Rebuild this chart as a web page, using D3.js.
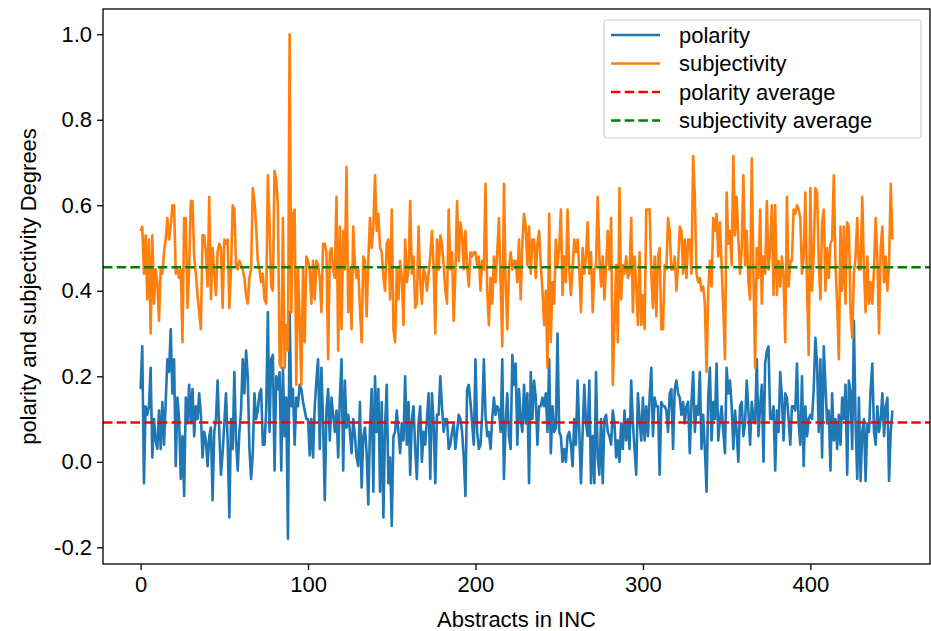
<!DOCTYPE html>
<html>
<head>
<meta charset="utf-8">
<script src="https://cdn.jsdelivr.net/npm/d3@7"></script>
<style>
  html, body { margin: 0; padding: 0; background: #fff; }
  svg text { font-family: "Liberation Sans", Arial, sans-serif; }
</style>
</head>
<body>
<svg id="chart" width="931" height="631"></svg>
<script>
// ── data ──────────────────────────────────────────────────────────────────
const polarity = [
  0.17, 0.27, -0.05, 0.13, 0.11, 0.13, 0.22, 0.01, 0.10, 0.05,
  0.03, 0.12, 0.03, 0.14, 0.04, 0.14, 0.24, 0.21, 0.31, 0.16,
  0.24, -0.01, 0.15, 0.10, -0.04, 0.06, -0.08, 0.15, 0.09, 0.18,
  0.09, 0.17, 0.06, 0.13, 0.10, 0.16, 0.11, 0.01, 0.07, 0.05,
  -0.01, 0.06, 0.08, -0.09, 0.07, 0.10, 0.19, 0.07, -0.03, 0.02,
  0.09, 0.16, 0.05, -0.13, 0.10, 0.03, 0.21, 0.05, -0.02, 0.07,
  0.12, 0.24, 0.16, 0.26, 0.20, 0.03, -0.04, 0.02, 0.16, 0.10,
  0.12, 0.16, 0.17, 0.04, 0.04, 0.12, 0.35, 0.07, 0.24, 0.25,
  -0.02, 0.20, 0.17, 0.21, -0.02, 0.22, 0.06, 0.15, -0.18, 0.35,
  0.13, 0.17, 0.04, 0.15, 0.13, 0.18, 0.17, 0.14, 0.12, 0.10,
  0.10, 0.015, 0.10, 0.01, 0.13, 0.19, 0.24, 0.03, 0.22, 0.09,
  -0.09, 0.12, 0.17, 0.05, 0.15, 0.11, 0.07, 0.12, 0.01, 0.15,
  0.24, -0.02, 0.19, 0.08, 0.11, 0.07, 0.02, 0.10, 0.06, 0.01,
  -0.01, 0.14, -0.06, 0.06, 0.08, 0.02, -0.10, 0.08, 0.17, -0.07,
  0.20, 0.07, 0.17, -0.07, 0.14, -0.13, 0.08, 0.18, -0.05, 0.01,
  -0.15, 0.06, 0.07, 0.12, 0.07, 0.02, 0.09, 0.05, 0.20, 0.04,
  0.14, -0.03, 0.10, 0.13, 0.03, -0.04, 0.09, 0.13, 0.00, 0.07,
  0.04, 0.10, 0.16, -0.04, 0.16, 0.09, -0.05, 0.11, 0.11, 0.20,
  0.13, 0.07, 0.10, 0.10, 0.03, 0.04, 0.07, 0.09, 0.03, 0.07,
  0.11, 0.10, 0.07, 0.01, -0.08, 0.17, 0.18, 0.14, 0.09, 0.04,
  0.24, 0.07, 0.03, 0.04, 0.11, 0.24, 0.11, 0.06, 0.07, 0.03,
  0.10, 0.15, 0.11, 0.13, 0.12, 0.07, 0.24, -0.04, 0.09, 0.16,
  0.06, 0.03, 0.25, 0.18, 0.23, 0.04, 0.17, 0.10, 0.07, 0.18,
  0.09, 0.16, -0.05, 0.21, 0.10, 0.19, 0.15, 0.04, 0.13, 0.13,
  0.15, 0.13, 0.16, 0.07, 0.24, 0.02, 0.13, 0.07, 0.08, 0.30,
  0.07, 0.06, 0.00, 0.03, 0.00, 0.06, 0.07, 0.04, -0.01, 0.10,
  0.04, 0.19, 0.07, -0.05, 0.07, 0.18, 0.09, 0.06, 0.19, -0.05,
  0.06, -0.05, 0.21, 0.01, -0.03, 0.10, -0.05, 0.10, 0.11, 0.07,
  0.06, 0.04, 0.12, 0.09, 0.01, 0.05, 0.00, 0.09, 0.03, 0.12,
  0.05, 0.10, 0.03, 0.19, 0.09, 0.03, -0.03, 0.16, 0.10, 0.05,
  0.15, 0.05, 0.13, 0.06, 0.15, 0.22, 0.06, 0.15, 0.13, 0.13,
  -0.03, 0.14, 0.13, 0.13, 0.12, 0.07, 0.16, 0.17, 0.03, 0.17,
  0.19, 0.16, 0.15, 0.11, 0.14, 0.09, 0.13, 0.14, 0.02, 0.14,
  0.21, 0.07, 0.13, 0.11, 0.21, 0.03, 0.11, 0.03, -0.07, 0.15,
  0.22, 0.05, 0.14, 0.10, 0.23, 0.05, 0.10, 0.13, 0.07, 0.02,
  0.22, 0.16, 0.19, 0.13, 0.03, 0.12, 0.07, 0.00, 0.13, 0.14,
  0.06, 0.09, 0.19, 0.12, 0.04, 0.14, 0.10, 0.09, 0.24, 0.06,
  0.13, 0.18, 0.00, 0.23, 0.26, 0.27, 0.10, 0.10, 0.13, -0.02,
  0.12, 0.07, 0.21, 0.15, 0.05, 0.16, 0.15, 0.10, 0.04, 0.13,
  0.13, 0.12, 0.23, 0.09, 0.04, 0.20, -0.01, 0.13, 0.06, 0.10,
  0.11, 0.10, 0.17, 0.29, 0.23, 0.07, 0.24, 0.01, 0.27, 0.18,
  0.09, 0.12, -0.02, 0.16, 0.05, 0.10, 0.03, 0.11, 0.04, 0.15,
  0.10, 0.18, -0.03, 0.19, 0.16, 0.03, 0.33, 0.09, -0.04, 0.15,
  -0.045, 0.07, 0.10, -0.045, 0.09, 0.07, 0.17, 0.23, 0.07, 0.04,
  0.13, 0.07, 0.10, 0.16, 0.06, 0.13, 0.15, -0.045, 0.07, 0.12
];

const subjectivity = [
  0.54, 0.55, 0.44, 0.53, 0.38, 0.52, 0.30, 0.53, 0.37, 0.45,
  0.42, 0.33, 0.45, 0.44, 0.49, 0.52, 0.57, 0.52, 0.55, 0.60,
  0.60, 0.44, 0.45, 0.43, 0.45, 0.28, 0.57, 0.57, 0.36, 0.45,
  0.61, 0.61, 0.48, 0.44, 0.39, 0.35, 0.31, 0.53, 0.53, 0.49,
  0.41, 0.62, 0.38, 0.50, 0.44, 0.39, 0.49, 0.51, 0.50, 0.36,
  0.52, 0.51, 0.52, 0.36, 0.45, 0.60, 0.59, 0.46, 0.45, 0.47,
  0.46, 0.45, 0.43, 0.39, 0.37, 0.43, 0.45, 0.64, 0.61, 0.55,
  0.47, 0.45, 0.42, 0.44, 0.38, 0.37, 0.67, 0.56, 0.41, 0.40,
  0.68, 0.66, 0.60, 0.23, 0.22, 0.57, 0.22, 0.32, 0.26, 1.00,
  0.35, 0.58, 0.59, 0.18, 0.45, 0.33, 0.18, 0.45, 0.28, 0.48,
  0.47, 0.45, 0.37, 0.47, 0.38, 0.47, 0.46, 0.43, 0.35, 0.51,
  0.51, 0.49, 0.24, 0.49, 0.50, 0.45, 0.43, 0.62, 0.26, 0.55,
  0.31, 0.54, 0.45, 0.69, 0.35, 0.45, 0.31, 0.55, 0.46, 0.43,
  0.45, 0.36, 0.28, 0.48, 0.47, 0.34, 0.47, 0.57, 0.50, 0.55,
  0.67, 0.54, 0.58, 0.50, 0.49, 0.43, 0.40, 0.51, 0.52, 0.38,
  0.59, 0.31, 0.28, 0.45, 0.38, 0.47, 0.43, 0.32, 0.52, 0.42,
  0.45, 0.61, 0.44, 0.48, 0.36, 0.37, 0.55, 0.42, 0.37, 0.45,
  0.44, 0.40, 0.44, 0.48, 0.54, 0.46, 0.30, 0.52, 0.45, 0.53,
  0.51, 0.46, 0.40, 0.37, 0.59, 0.45, 0.49, 0.33, 0.44, 0.61,
  0.47, 0.56, 0.53, 0.45, 0.54, 0.46, 0.41, 0.49, 0.48, 0.49,
  0.49, 0.46, 0.48, 0.40, 0.47, 0.45, 0.65, 0.40, 0.32, 0.43,
  0.37, 0.48, 0.42, 0.49, 0.57, 0.42, 0.27, 0.65, 0.42, 0.31,
  0.45, 0.49, 0.45, 0.47, 0.47, 0.42, 0.52, 0.38, 0.51, 0.58,
  0.55, 0.46, 0.55, 0.44, 0.52, 0.52, 0.43, 0.51, 0.54, 0.46,
  0.40, 0.32, 0.40, 0.22, 0.58, 0.28, 0.42, 0.37, 0.52, 0.46,
  0.50, 0.59, 0.39, 0.48, 0.42, 0.59, 0.45, 0.39, 0.45, 0.52,
  0.49, 0.52, 0.45, 0.35, 0.50, 0.44, 0.48, 0.56, 0.44, 0.49,
  0.35, 0.45, 0.46, 0.62, 0.48, 0.41, 0.48, 0.38, 0.46, 0.54,
  0.45, 0.57, 0.18, 0.32, 0.46, 0.28, 0.64, 0.38, 0.46, 0.44,
  0.48, 0.43, 0.44, 0.57, 0.35, 0.48, 0.41, 0.32, 0.49, 0.32,
  0.39, 0.31, 0.59, 0.59, 0.59, 0.44, 0.36, 0.48, 0.34, 0.48,
  0.50, 0.31, 0.31, 0.46, 0.45, 0.57, 0.54, 0.45, 0.45, 0.48,
  0.40, 0.46, 0.55, 0.54, 0.44, 0.52, 0.43, 0.52, 0.52, 0.44,
  0.715, 0.62, 0.44, 0.42, 0.43, 0.40, 0.41, 0.37, 0.21, 0.40,
  0.47, 0.41, 0.57, 0.54, 0.58, 0.48, 0.56, 0.46, 0.36, 0.24,
  0.63, 0.51, 0.54, 0.46, 0.715, 0.53, 0.62, 0.52, 0.44, 0.50,
  0.67, 0.46, 0.54, 0.42, 0.38, 0.71, 0.44, 0.22, 0.50, 0.43,
  0.59, 0.37, 0.48, 0.44, 0.61, 0.45, 0.50, 0.60, 0.39, 0.60,
  0.39, 0.47, 0.41, 0.48, 0.43, 0.28, 0.62, 0.41, 0.47, 0.47,
  0.59, 0.58, 0.60, 0.59, 0.57, 0.44, 0.48, 0.63, 0.41, 0.25,
  0.64, 0.40, 0.49, 0.64, 0.63, 0.47, 0.38, 0.56, 0.59, 0.40,
  0.50, 0.43, 0.51, 0.52, 0.67, 0.46, 0.37, 0.24, 0.55, 0.40,
  0.55, 0.37, 0.56, 0.55, 0.35, 0.29, 0.44, 0.48, 0.57, 0.45,
  0.45, 0.62, 0.45, 0.35, 0.48, 0.37, 0.42, 0.37, 0.45, 0.57,
  0.48, 0.30, 0.50, 0.55, 0.42, 0.48, 0.40, 0.46, 0.65, 0.52
];

const polarityAverage = 0.092;
const subjectivityAverage = 0.455;

const xTicks = [0, 100, 200, 300, 400];
const yTicks = [-0.2, 0.0, 0.2, 0.4, 0.6, 0.8, 1.0];

const seriesNames = ['polarity', 'subjectivity', 'polarity average', 'subjectivity average'];

// ── layout ─────────────────────────────────────────────────────────────────
const PLOT = { left: 103, right: 930, top: 9, bottom: 564 };
const FONT = 22;
const LW = 2.6;            // series / average line width
const DASH = '9.5,4.2';

const COLORS = {
  polarity: '#1f77b4',
  subjectivity: '#ff7f0e',
  'polarity average': '#ff0000',
  'subjectivity average': '#008000'
};

const svg = d3.select('#chart');

const n = polarity.length;
const xPad = (n - 1) * 0.05;
const x = d3.scaleLinear()
  .domain([-xPad, (n - 1) + xPad])
  .range([PLOT.left, PLOT.right]);

const yMin = d3.min([...polarity, ...subjectivity]);
const yMax = d3.max([...polarity, ...subjectivity]);
const yPad = (yMax - yMin) * 0.05;
const y = d3.scaleLinear()
  .domain([yMin - yPad, yMax + yPad])
  .range([PLOT.bottom, PLOT.top]);

svg.append('defs').append('clipPath').attr('id', 'clip')
  .append('rect')
  .attr('x', PLOT.left).attr('y', PLOT.top)
  .attr('width', PLOT.right - PLOT.left)
  .attr('height', PLOT.bottom - PLOT.top);

const body = svg.append('g').attr('clip-path', 'url(#clip)');

const line = d3.line().x((d, i) => x(i)).y(d => y(d));

[['polarity', polarity], ['subjectivity', subjectivity]].forEach(([name, data]) => {
  body.append('path')
    .datum(data)
    .attr('fill', 'none')
    .attr('stroke', COLORS[name])
    .attr('stroke-width', LW)
    .attr('stroke-linejoin', 'round')
    .attr('d', line);
});

// average lines span the whole axes
[[polarityAverage, 'polarity average'], [subjectivityAverage, 'subjectivity average']]
  .forEach(([v, name]) => {
    body.append('line')
      .attr('x1', PLOT.left).attr('x2', PLOT.right)
      .attr('y1', y(v)).attr('y2', y(v))
      .attr('stroke', COLORS[name])
      .attr('stroke-width', LW)
      .attr('stroke-dasharray', DASH);
  });

// ── axes ──────────────────────────────────────────────────────────────────
const xAxis = d3.axisBottom(x)
  .tickValues(xTicks)
  .tickFormat(d3.format('d'))
  .tickSize(6)
  .tickPadding(6);

const yAxis = d3.axisLeft(y)
  .tickValues(yTicks)
  .tickFormat(d => d3.format('.1f')(d).replace('−', '-'))
  .tickSize(6)
  .tickPadding(5);

const xg = svg.append('g')
  .attr('transform', `translate(0,${PLOT.bottom})`)
  .call(xAxis);
const yg = svg.append('g')
  .attr('transform', `translate(${PLOT.left},0)`)
  .call(yAxis);

[xg, yg].forEach(g => {
  g.select('.domain').remove();
  g.selectAll('line').attr('stroke', '#000').attr('stroke-width', 1.3);
  g.selectAll('text')
    .attr('fill', '#000')
    .attr('font-size', FONT + 'px')
    .attr('font-family', '"Liberation Sans", Arial, sans-serif');
});

// frame
svg.append('rect')
  .attr('x', PLOT.left).attr('y', PLOT.top)
  .attr('width', PLOT.right - PLOT.left)
  .attr('height', PLOT.bottom - PLOT.top)
  .attr('fill', 'none')
  .attr('stroke', '#000')
  .attr('stroke-width', 1.3);

// axis labels
svg.append('text')
  .attr('x', (PLOT.left + PLOT.right) / 2)
  .attr('y', 627)
  .attr('text-anchor', 'middle')
  .attr('font-size', FONT + 'px')
  .text('Abstracts in INC');

svg.append('text')
  .attr('transform', `translate(36,${(PLOT.top + PLOT.bottom) / 2}) rotate(-90)`)
  .attr('text-anchor', 'middle')
  .attr('font-size', FONT + 'px')
  .text('polarity and subjectivity Degrees');

// ── legend ───────────────────────────────────────────────────────────────
const LEG = { x: 604, y: 20, w: 317, h: 118, row: 28.5 };
const legend = svg.append('g').attr('transform', `translate(${LEG.x},${LEG.y})`);

legend.append('rect')
  .attr('width', LEG.w).attr('height', LEG.h)
  .attr('rx', 3)
  .attr('fill', 'rgba(255,255,255,0.8)')
  .attr('stroke', '#d0d0d0')
  .attr('stroke-width', 1.2);

seriesNames.forEach((name, i) => {
  const cy = 15 + i * LEG.row;
  legend.append('line')
    .attr('x1', 7).attr('x2', 56)
    .attr('y1', cy).attr('y2', cy)
    .attr('stroke', COLORS[name])
    .attr('stroke-width', LW)
    .attr('stroke-dasharray', name.includes('average') ? DASH : null);
  legend.append('text')
    .attr('x', 75).attr('y', cy)
    .attr('dy', '0.35em')
    .attr('font-size', FONT + 'px')
    .text(name);
});
</script>
</body>
</html>
